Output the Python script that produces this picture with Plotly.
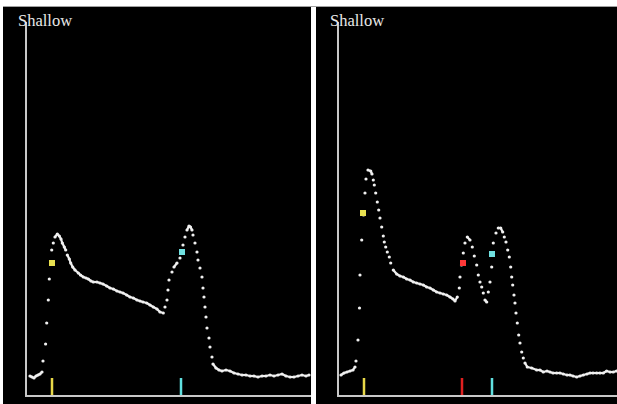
import plotly.graph_objects as go

# ---- data (x: samples, y: signal units) ----
left_x = [3, 5, 7, 9, 11, 13, 15, 16, 18.6, 19.7, 21.3, 22.3, 24.7, 26.3, 28, 30.3, 32.3, 34, 35.3, 37.3,
          38.7, 40.3, 42.3, 43.7, 45.7, 48, 51.3, 53.5, 56.3, 59, 61.3, 64, 66.3, 70, 73, 76, 79.7, 83, 86.3, 90,
          93, 96, 99.7, 103, 106.3, 110, 113, 116, 119.7, 123, 126.3, 130, 133, 136.3, 138, 140, 141, 142,
          145, 147, 150, 153, 155, 156, 158, 160, 162, 163.5, 165, 166, 168, 170, 171, 173, 175, 176, 177,
          178, 179, 180, 182, 183, 185, 186, 189, 192, 195, 199, 203, 207, 211, 215, 219, 223, 227, 231,
          235, 239, 243, 247, 251, 255, 259, 263, 267, 271, 275, 279, 282]
left_y = [19, 18, 17, 19, 20, 21, 23, 34, 51, 72, 95, 116, 145, 152, 158, 161, 159, 156, 152, 148,
          145, 140, 136, 132, 128, 125, 122, 120, 118, 117, 116, 114, 113, 113, 112, 111, 109, 107, 106, 104,
          103, 102, 100, 98, 97, 95, 94, 93, 92, 90, 88, 86, 83, 82, 88, 95, 105, 115,
          123, 128, 132, 137, 142, 150, 158, 165, 169, 168, 165, 160, 152, 143, 135, 127, 118, 107, 98,
          88, 78, 67, 57, 48, 38, 31, 27, 25, 24, 25, 24, 22, 21, 20, 20, 19, 19, 18,
          19, 19, 20, 19, 20, 21, 19, 18, 18, 19, 20, 19, 20]

right_x = [2, 5, 8, 11, 14, 16, 17, 19, 20.5, 21, 22.7, 24.5, 26, 27, 29, 31.7, 33, 34.3, 35.3, 36.7,
           38.3, 39.7, 41, 42.7, 44.3, 45.3, 46.7, 48.3, 50.3, 51.7, 54.3, 57.7, 61, 64.3, 67.7, 71, 74.3,
           77.7, 81, 84.3, 87.7, 91, 94.3, 97.7, 101, 104.3, 107.7, 111, 114, 116, 118.3, 120.3, 121, 122.5,
           124.3, 126, 128.3, 131, 133.3, 135.3, 137.7, 139.3, 141, 142.7, 144.3, 146, 147.7, 149.3, 151,
           152.7, 153.5, 154.3, 157, 159.3, 161.7, 163.7, 165.3, 167, 168.7, 170.3, 171.7, 172.7, 173.7, 175,
           176, 177, 178.3, 179.7, 181, 182.7, 184.3, 186, 188.3, 192.7, 197.7, 201, 204.3, 208, 211, 214,
           217.7, 221, 224.3, 228, 231, 234, 237.7, 241, 244.3, 248, 251, 254, 257.7, 261, 264.3, 267.7, 271,
           274.3, 277.5]
right_y = [20, 22, 23, 24, 25, 28, 34, 55, 87, 120, 155, 180, 202, 216, 225, 224, 221, 215, 210, 202,
           193, 185, 177, 168, 159, 153, 148, 143, 138, 132, 125, 121, 119, 118, 116, 115, 113,
           112, 111, 110, 108, 107, 105, 103, 102, 101, 100, 98, 96, 94, 98, 107, 118, 130,
           142, 152, 158, 155, 148, 139, 130, 120, 113, 108, 102, 95, 93, 103, 113,
           128, 140, 152, 162, 167, 167, 163, 158, 153, 145, 138, 128, 118, 110, 100,
           92, 82, 72, 60, 52, 43, 37, 32, 28, 27, 25, 25, 23, 24, 23, 22,
           22, 22, 21, 20, 20, 19, 18, 19, 20, 21, 22, 22, 22, 22, 22, 24, 23,
           23, 24]

left_marks_x = [25, 155]
left_marks_y = [132, 143]
left_marks_c = ["#e8e050", "#70e0e0"]
left_ticks_x = [25, 154]
left_ticks_c = ["#e8d848", "#60e0e0"]

right_marks_x = [24, 124, 153]
right_marks_y = [182, 132, 141]
right_marks_c = ["#e8e050", "#ff3838", "#70e0e0"]
right_ticks_x = [25, 123, 153]
right_ticks_c = ["#e8d848", "#e02020", "#60e0e0"]

left_base = 18
right_base = 19
tick_len = 17
titles = ["Shallow", "Shallow"]


def line_segments(xs, ys, max_dy=4.5):
    lx, ly = [], []
    for i in range(len(xs) - 1):
        if abs(ys[i + 1] - ys[i]) <= max_dy:
            lx += [xs[i], xs[i + 1], None]
            ly += [ys[i], ys[i + 1], None]
    return lx, ly


fig = go.Figure()


def add_panel(xs, ys, mx, my, mc, tx, tc, base, xa, ya):
    lx, ly = line_segments(xs, ys)
    fig.add_trace(go.Scatter(x=lx, y=ly, mode="lines", line=dict(color="#f0f0f0", width=2.2),
                             xaxis=xa, yaxis=ya, hoverinfo="skip", showlegend=False))
    fig.add_trace(go.Scatter(x=xs, y=ys, mode="markers", marker=dict(color="#f0f0f0", size=3.2),
                             xaxis=xa, yaxis=ya, showlegend=False))
    for x, y, c in zip(mx, my, mc):
        fig.add_trace(go.Scatter(x=[x], y=[y], mode="markers",
                                 marker=dict(symbol="square", size=6, color=c),
                                 xaxis=xa, yaxis=ya, showlegend=False))
    for x, c in zip(tx, tc):
        fig.add_trace(go.Scatter(x=[x, x], y=[0, tick_len], mode="lines",
                                 line=dict(color=c, width=2.5),
                                 xaxis=xa, yaxis=ya, showlegend=False))
    fig.add_trace(go.Scatter(x=[-4], y=[base], mode="markers", cliponaxis=False,
                             marker=dict(symbol="line-ew", size=8,
                                         line=dict(color="#b05060", width=1.8)),
                             xaxis=xa, yaxis=ya, showlegend=False))


add_panel(left_x, left_y, left_marks_x, left_marks_y, left_marks_c, left_ticks_x, left_ticks_c,
          left_base, "x", "y")
add_panel(right_x, right_y, right_marks_x, right_marks_y, right_marks_c, right_ticks_x, right_ticks_c,
          right_base, "x2", "y2")

W, H = 617, 404
ax_common = dict(showgrid=False, zeroline=False, showticklabels=False, ticks="",
                 showline=True, linecolor="#c8c8c8", linewidth=1.5)
ydom = [9 / H, 382 / H]
title_font = dict(family="Liberation Serif, Times New Roman, DejaVu Serif, serif", size=16.5, color="#e8e8e8")
fig.update_layout(
    width=W, height=H, margin=dict(l=0, r=0, t=0, b=0),
    paper_bgcolor="white", plot_bgcolor="black",
    xaxis=dict(domain=[27 / W, 311 / W], range=[0, 284], anchor="y", **ax_common),
    yaxis=dict(domain=ydom, range=[0, 373], anchor="x", **ax_common),
    xaxis2=dict(domain=[339 / W, 1], range=[0, 278], anchor="y2", **ax_common),
    yaxis2=dict(domain=ydom, range=[0, 373], anchor="x2", **ax_common),
    shapes=[
        dict(type="rect", xref="paper", yref="paper", x0=3 / W, x1=311 / W, y0=0, y1=397 / H,
             fillcolor="black", line=dict(width=0), layer="below"),
        dict(type="rect", xref="paper", yref="paper", x0=316 / W, x1=1, y0=0, y1=397 / H,
             fillcolor="black", line=dict(width=0), layer="below"),
        dict(type="line", xref="paper", yref="paper", x0=3 / W, x1=1, y0=397.5 / H, y1=397.5 / H,
             line=dict(color="#a0a0a0", width=1), layer="below"),
    ],
    annotations=[
        dict(text=titles[0], xref="paper", yref="paper", x=16 / W, y=(H - 9) / H,
             xanchor="left", yanchor="top", showarrow=False, font=title_font),
        dict(text=titles[1], xref="paper", yref="paper", x=328 / W, y=(H - 9) / H,
             xanchor="left", yanchor="top", showarrow=False, font=title_font),
    ],
)

fig.write_html("out.html", config={"displayModeBar": False},
               post_script="document.body.style.margin='0';document.body.style.padding='0';")
